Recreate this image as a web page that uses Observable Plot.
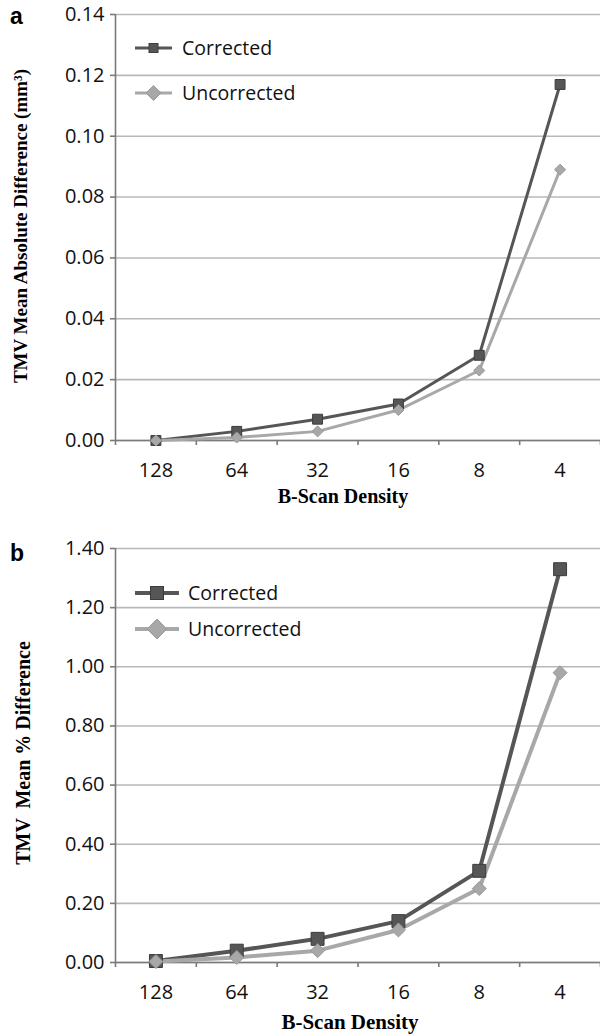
<!DOCTYPE html>
<html>
<head>
<meta charset="utf-8">
<script src="https://cdn.jsdelivr.net/npm/d3@7"></script>
<script src="https://cdn.jsdelivr.net/npm/@observablehq/plot@0.6"></script>
<style>
  html, body { margin: 0; padding: 0; background: #fff; }
  #wrap { position: relative; width: 600px; height: 1036px; overflow: hidden; }
  .panel { position: absolute; left: 0; }
  #overlay { position: absolute; left: 0; top: 0; pointer-events: none; }
</style>
</head>
<body>
<div id="wrap">
  <div id="pa" class="panel" style="top:0px"></div>
  <div id="pb" class="panel" style="top:518px"></div>
</div>
<script>
// ---- data ----
const categories = ["128", "64", "32", "16", "8", "4"];
const absCorrected   = [0.000, 0.003, 0.007, 0.012, 0.028, 0.117];
const absUncorrected = [0.000, 0.001, 0.003, 0.010, 0.023, 0.089];
const pctCorrected   = [0.005, 0.040, 0.080, 0.140, 0.310, 1.330];
const pctUncorrected = [0.003, 0.017, 0.040, 0.110, 0.250, 0.980];
const absTicks = [0.00, 0.02, 0.04, 0.06, 0.08, 0.10, 0.12, 0.14];
const pctTicks = [0.00, 0.20, 0.40, 0.60, 0.80, 1.00, 1.20, 1.40];
const seriesNames = ["Corrected", "Uncorrected"];
const xTitle = "B-Scan Density";
const yTitleA = "TMV Mean Absolute Difference (mm³)";
const yTitleB = "TMV  Mean % Difference";

const DARK = "#565656", DARK_EDGE = "#3c3c3c", LIGHT = "#a8a8a8", LIGHT_EDGE = "#999";

function panel({height, marginTop, marginBottom, ticks, corr, unc, lw, rSq, rDi}) {
  const n = categories.length;
  const rows = categories.map((c, i) => ({i, c, corr: corr[i], unc: unc[i]}));
  const edges = d3.range(n + 1).map(k => k - 0.5);
  return Plot.plot({
    width: 600, height, marginLeft: 115, marginRight: 0, marginTop, marginBottom,
    style: {fontFamily: "'Open Sans', sans-serif", fontSize: "20px", color: "#111", background: "white", overflow: "visible"},
    x: {type: "linear", domain: [-0.5, n - 0.5]},
    y: {domain: [ticks[0], ticks[ticks.length - 1]]},
    marks: [
      Plot.gridY(ticks, {stroke: "#b8b8b8", strokeOpacity: 1, strokeWidth: 1.6}),
      Plot.ruleX([edges[0]], {stroke: "#7a7a7a", strokeWidth: 1.6}),
      Plot.ruleY([ticks[0]], {stroke: "#7a7a7a", strokeWidth: 1.6}),
      Plot.axisY(ticks, {tickSize: 5, tickPadding: 6, stroke: "#7a7a7a", strokeWidth: 1.6, tickFormat: d => d.toFixed(2), label: null}),
      Plot.axisX(edges, {tickSize: 5, stroke: "#7a7a7a", strokeWidth: 1.6, tickFormat: () => "", label: null}),
      Plot.axisX(d3.range(n), {tickSize: 0, tickPadding: 22, tickFormat: k => categories[k], label: null, fontSize: 20}),
      Plot.line(rows, {x: "i", y: "corr", stroke: DARK, strokeWidth: lw}),
      Plot.line(rows, {x: "i", y: "unc", stroke: LIGHT, strokeWidth: lw}),
      Plot.dot(rows, {x: "i", y: "corr", symbol: "square", r: rSq, fill: DARK, stroke: DARK_EDGE, strokeWidth: 1}),
      Plot.dot(rows, {x: "i", y: "unc", symbol: "diamond2", r: rDi, fill: LIGHT, stroke: LIGHT_EDGE, strokeWidth: 1})
    ]
  });
}

document.getElementById("pa").appendChild(panel({
  height: 518, marginTop: 14, marginBottom: 78, ticks: absTicks,
  corr: absCorrected, unc: absUncorrected, lw: 3, rSq: 5.6, rDi: 5
}));
document.getElementById("pb").appendChild(panel({
  height: 518, marginTop: 30, marginBottom: 74, ticks: pctTicks,
  corr: pctCorrected, unc: pctUncorrected, lw: 4, rSq: 7.3, rDi: 6.3
}));

// ---- overlay: panel letters, axis titles, legends ----
const svg = d3.select("#wrap").append("svg").attr("id", "overlay")
  .attr("width", 600).attr("height", 1036);
const serif = "'Liberation Serif', 'Times New Roman', serif";
const sans = "'Open Sans', sans-serif";

svg.append("text").attr("x", 10).attr("y", 24).text("a")
  .attr("font-family", "'Liberation Sans', Arial, sans-serif").attr("font-weight", "bold").attr("font-size", 23);
svg.append("text").attr("x", 10).attr("y", 561).text("b")
  .attr("font-family", "'Liberation Sans', Arial, sans-serif").attr("font-weight", "bold").attr("font-size", 23);

svg.append("text").attr("transform", "translate(27,226) rotate(-90)").attr("text-anchor", "middle")
  .attr("font-family", serif).attr("font-weight", "bold").attr("font-size", 19).text(yTitleA);
svg.append("text").attr("transform", "translate(30,753) rotate(-90)").attr("text-anchor", "middle")
  .attr("font-family", serif).attr("font-weight", "bold").attr("font-size", 20)
  .style("white-space", "pre").text(yTitleB);

svg.append("text").attr("x", 343).attr("y", 503).attr("text-anchor", "middle")
  .attr("font-family", serif).attr("font-weight", "bold").attr("font-size", 20).text(xTitle);
svg.append("text").attr("x", 350).attr("y", 1029).attr("text-anchor", "middle")
  .attr("font-family", serif).attr("font-weight", "bold").attr("font-size", 21).text(xTitle);

function legendItem(x0, x1, cy, textX, name, dark, lw, size, fs) {
  const g = svg.append("g");
  g.append("line").attr("x1", x0).attr("x2", x1).attr("y1", cy).attr("y2", cy)
    .attr("stroke", dark ? DARK : LIGHT).attr("stroke-width", lw);
  const cx = (x0 + x1) / 2;
  if (dark) {
    g.append("rect").attr("x", cx - size / 2).attr("y", cy - size / 2).attr("width", size).attr("height", size)
      .attr("fill", DARK).attr("stroke", DARK_EDGE);
  } else {
    const h = size * 0.62;
    g.append("path").attr("d", `M${cx},${cy - h}L${cx + h},${cy}L${cx},${cy + h}L${cx - h},${cy}Z`)
      .attr("fill", LIGHT).attr("stroke", LIGHT_EDGE);
  }
  g.append("text").attr("x", textX).attr("y", cy).attr("dy", "0.36em")
    .attr("font-family", sans).attr("font-size", fs).attr("fill", "#111").text(name);
}
legendItem(135, 172, 48, 182, seriesNames[0], true, 3, 9, 19.5);
legendItem(135, 172, 93, 182, seriesNames[1], false, 3, 12, 19.5);
legendItem(135, 179, 593, 188, seriesNames[0], true, 4, 13, 19.5);
legendItem(135, 179, 629, 188, seriesNames[1], false, 4, 16, 19.5);
</script>
</body>
</html>
